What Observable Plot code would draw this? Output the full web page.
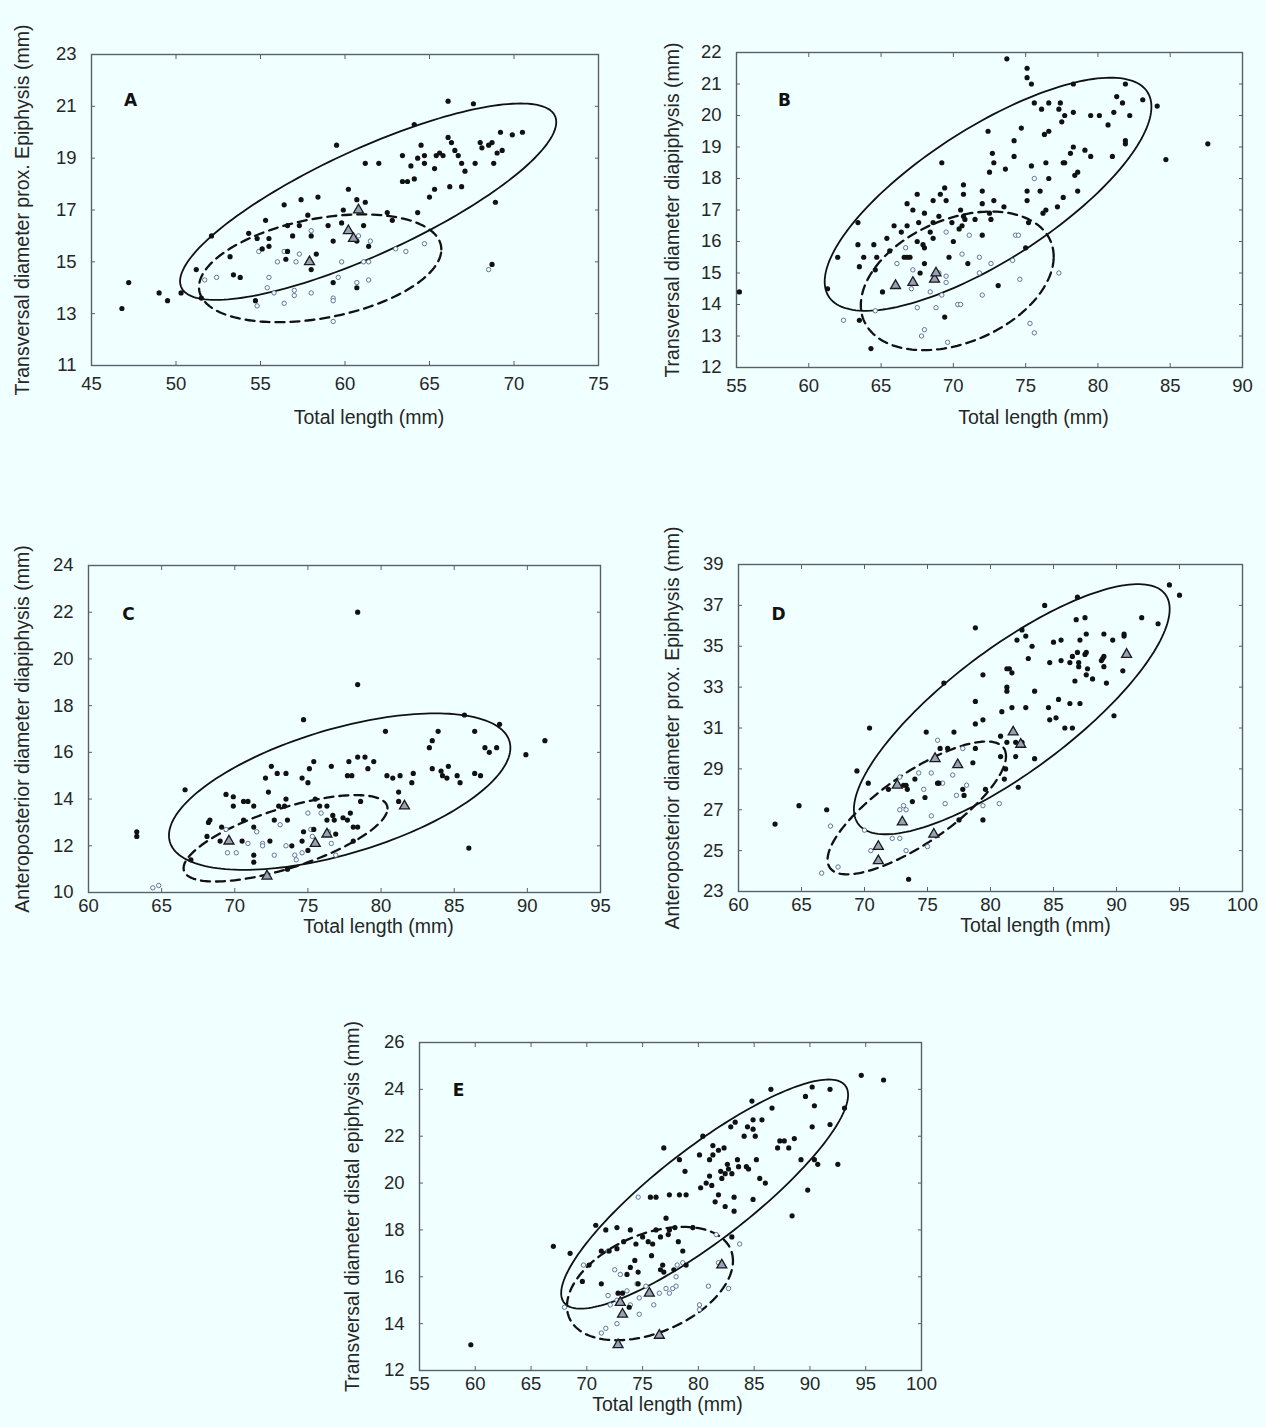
<!DOCTYPE html>
<html>
<head>
<meta charset="utf-8">
<script src="https://cdn.jsdelivr.net/npm/d3@7"></script>
<script src="https://cdn.jsdelivr.net/npm/@observablehq/plot@0.6"></script>
<style>
  html, body { margin: 0; padding: 0; background: #f0ffff; }
  #chart { position: relative; width: 1266px; height: 1427px; background: #f0ffff; }
  #chart svg { position: absolute; left: 0; top: 0; }
</style>
</head>
<body>
<div id="chart"></div>
<script>
// ---------- Panel A ----------
const aXTicks = [45, 50, 55, 60, 65, 70, 75];
const aYTicks = [11, 13, 15, 17, 19, 21, 23];
const aFilled = [[46.8,13.2],[47.2,14.2],[49.0,13.8],[49.5,13.5],[50.3,13.8],[51.2,14.7],[51.5,13.6],[52.1,16.0],[53.2,15.2],[53.4,14.5],[53.8,14.4],[54.3,16.1],[54.7,13.5],[54.8,15.9],[55.1,15.5],[55.3,16.6],[55.5,15.9],[55.5,15.6],[56.4,17.2],[56.6,16.4],[56.6,15.4],[56.5,15.1],[56.9,16.0],[57.3,16.4],[57.4,17.4],[57.8,16.8],[58.0,16.0],[58.0,14.7],[58.3,15.3],[58.4,17.5],[59.0,16.4],[59.3,15.8],[59.5,19.5],[59.3,14.2],[59.8,16.5],[59.9,17.0],[60.2,17.8],[60.7,17.4],[60.7,15.8],[60.7,14.0],[61.1,16.4],[61.2,17.3],[61.2,18.8],[61.4,15.6],[62.0,18.8],[62.5,16.9],[62.8,16.6],[63.4,19.1],[63.4,18.1],[63.7,18.1],[63.9,18.7],[64.1,18.2],[64.1,20.3],[64.3,19.0],[64.3,16.9],[64.5,19.5],[64.7,18.8],[64.7,19.1],[65.0,17.5],[65.3,17.8],[65.3,18.6],[65.4,19.1],[65.6,19.2],[65.8,19.1],[66.1,21.2],[66.1,19.8],[66.3,19.6],[66.2,17.9],[66.5,19.3],[66.7,19.1],[66.9,18.8],[67.1,18.5],[66.9,17.9],[67.6,21.1],[67.7,18.8],[68.0,19.6],[68.1,19.4],[68.5,19.5],[68.7,19.6],[68.8,18.8],[69.0,19.2],[69.3,19.3],[69.2,20.0],[69.9,19.9],[70.5,20.0],[68.9,17.3],[68.7,14.9]];
const aOpen = [[51.7,14.3],[52.4,14.4],[54.9,15.4],[56.0,15.0],[56.4,15.4],[57.1,15.0],[57.3,15.3],[58.0,16.2],[55.5,14.4],[55.4,14.0],[55.8,13.8],[54.8,13.3],[56.4,13.4],[57.0,13.9],[57.0,13.7],[58.0,13.8],[59.6,14.4],[59.3,13.6],[59.3,13.5],[59.3,12.7],[59.8,15.0],[60.7,14.2],[60.8,16.0],[61.1,15.0],[61.4,15.0],[61.4,14.3],[61.5,15.8],[63.0,15.5],[63.6,15.4],[64.7,15.7],[68.5,14.7]];
const aTri = [[60.8,17.0],[60.2,16.2],[60.5,15.9],[57.9,15.0]];
// ellipse: [centre x, centre y, half-width, half-height, cos(phase)]
const aSolid = [61.37, 17.32, 11.13, 3.79, 0.81];
const aDashed = [58.53, 14.75, 7.17, 2.08, 0.35];

// ---------- Panel B ----------
const bXTicks = [55, 60, 65, 70, 75, 80, 85, 90];
const bYTicks = [12, 13, 14, 15, 16, 17, 18, 19, 20, 21, 22];
const bFilled = [[55.2,14.4],[61.3,14.5],[62.0,15.5],[63.4,16.6],[63.4,15.9],[63.5,15.2],[63.5,13.5],[63.8,15.5],[64.3,12.6],[64.5,15.9],[64.7,15.5],[64.6,15.1],[65.1,14.4],[65.4,16.1],[65.6,15.7],[65.9,16.5],[66.4,16.3],[66.8,17.2],[66.8,16.5],[66.6,15.5],[66.8,15.5],[67.0,15.5],[67.2,17.0],[67.5,17.5],[67.5,16.0],[67.7,15.0],[67.9,15.9],[68.0,15.3],[68.0,15.8],[67.6,16.6],[68.4,16.3],[68.6,16.1],[68.6,17.3],[68.6,16.6],[68.0,16.9],[69.0,16.8],[69.1,17.5],[69.4,17.7],[69.5,17.3],[69.2,18.5],[69.7,15.5],[69.4,13.6],[69.9,16.6],[70.0,16.0],[70.4,16.4],[70.5,17.0],[70.6,16.5],[70.7,17.8],[70.7,16.8],[70.8,16.7],[71.0,15.3],[70.7,17.5],[71.5,16.7],[72.0,17.6],[72.0,17.2],[72.0,16.2],[72.4,19.5],[72.5,16.9],[72.6,16.7],[72.5,18.2],[72.7,18.8],[72.8,18.5],[72.8,17.3],[73.1,14.6],[73.5,17.1],[73.6,18.3],[73.7,21.8],[74.2,19.2],[74.2,18.7],[74.7,19.6],[75.1,21.5],[75.1,21.2],[75.4,21.0],[75.1,17.6],[75.1,17.3],[75.2,16.6],[75.0,15.8],[75.4,18.4],[75.6,20.4],[76.0,17.6],[76.1,20.2],[76.2,16.9],[76.3,19.4],[76.6,19.5],[76.4,18.5],[76.6,18.0],[76.6,20.4],[76.4,17.0],[77.2,17.1],[77.3,20.2],[77.4,20.4],[77.5,19.8],[77.7,20.0],[77.6,17.4],[77.6,18.5],[77.7,18.5],[78.1,18.8],[78.3,19.0],[78.3,20.1],[78.3,21.0],[78.4,18.1],[78.6,18.2],[78.6,17.6],[79.1,18.9],[79.5,20.0],[79.5,18.7],[80.1,20.0],[80.7,19.7],[81.0,18.7],[81.1,20.1],[81.3,20.6],[81.7,20.4],[81.9,21.0],[82.2,20.0],[81.9,19.2],[81.9,19.1],[83.1,20.5],[84.1,20.3],[84.7,18.6],[87.6,19.1]];
const bOpen = [[62.4,13.5],[64.6,13.8],[66.1,15.3],[67.1,14.5],[67.2,15.1],[67.5,13.9],[67.8,13.0],[68.0,13.2],[68.4,14.4],[68.8,13.9],[69.0,15.0],[69.2,14.3],[69.5,14.9],[69.5,14.7],[69.6,12.8],[69.5,16.3],[70.3,14.0],[70.5,14.0],[70.6,15.6],[71.1,16.2],[71.8,15.5],[71.8,15.0],[72.0,14.3],[72.6,15.3],[74.1,15.4],[74.3,16.2],[74.5,16.2],[74.6,14.8],[75.3,13.4],[75.6,13.1],[75.6,18.0],[77.3,15.0],[66.7,15.8]];
const bTri = [[66.0,14.6],[67.2,14.7],[68.7,14.8],[68.8,15.0]];
const bSolid = [72.4, 17.5, 11.3, 3.7, 0.75];
const bDashed = [70.27, 14.75, 6.67, 2.2, 0.35];

// ---------- Panel C ----------
const cXTicks = [60, 65, 70, 75, 80, 85, 90, 95];
const cYTicks = [10, 12, 14, 16, 18, 20, 22, 24];
const cFilled = [[63.3,12.6],[63.3,12.4],[66.6,14.4],[67.0,11.4],[68.1,12.4],[68.2,13.0],[68.3,13.1],[69.0,12.2],[69.1,12.8],[69.4,14.2],[69.9,14.1],[69.9,13.7],[70.5,12.2],[70.6,13.1],[70.6,13.9],[70.9,13.9],[71.3,13.7],[71.3,12.8],[71.3,11.6],[71.3,11.3],[72.1,14.9],[72.3,14.3],[72.4,12.2],[72.5,15.4],[72.7,13.1],[72.9,15.1],[73.0,13.7],[73.4,13.7],[73.5,15.1],[73.5,14.0],[73.6,13.1],[73.6,11.0],[73.9,12.0],[74.6,12.2],[74.6,14.9],[74.7,17.4],[74.7,12.6],[75.0,11.8],[75.0,14.7],[75.1,15.3],[75.4,15.6],[75.4,12.7],[75.5,14.0],[75.8,13.7],[76.3,13.7],[76.3,13.1],[76.7,13.3],[76.8,13.1],[76.6,15.4],[76.9,12.5],[77.4,13.2],[77.7,15.0],[77.7,13.1],[77.8,15.6],[77.9,13.4],[78.0,15.0],[78.1,12.8],[78.1,12.2],[78.4,22.0],[78.4,18.9],[78.4,15.8],[78.4,12.8],[78.6,13.9],[78.9,15.8],[79.1,15.3],[79.5,15.6],[80.3,16.9],[80.4,15.0],[80.8,14.9],[81.2,14.3],[81.2,13.9],[81.3,15.0],[82.1,14.7],[82.2,15.1],[83.3,16.2],[83.5,16.5],[83.5,15.3],[83.9,16.9],[84.1,15.2],[84.2,15.0],[84.5,14.9],[84.6,15.4],[85.2,15.0],[85.4,14.7],[85.7,17.6],[86.0,11.9],[86.4,16.9],[86.4,15.1],[86.8,15.0],[87.1,16.2],[87.4,16.0],[87.9,16.2],[88.1,17.2],[89.9,15.9],[91.2,16.5]];
const cOpen = [[64.4,10.2],[64.8,10.3],[69.4,12.7],[69.5,11.7],[70.1,11.7],[70.9,12.1],[71.5,12.6],[71.9,12.1],[71.9,12.0],[72.7,11.6],[73.1,12.9],[73.5,12.0],[74.1,11.6],[74.2,11.4],[74.6,11.7],[75.0,13.4],[75.2,12.7],[75.3,12.4],[75.9,13.4],[76.4,12.6],[76.6,12.1],[76.9,11.6]];
const cTri = [[69.6,12.2],[72.2,10.7],[75.5,12.1],[76.3,12.5],[81.6,13.7]];
const cSolid = [77.17, 14.32, 11.67, 3.35, 0.56];
const cDashed = [73.47, 12.32, 6.97, 1.85, 0.69];

// ---------- Panel D ----------
const dXTicks = [60, 65, 70, 75, 80, 85, 90, 95, 100];
const dYTicks = [23, 25, 27, 29, 31, 33, 35, 37, 39];
const dFilled = [[62.9,26.3],[64.8,27.2],[67.0,27.0],[69.4,28.9],[70.3,28.3],[70.4,31.0],[71.9,28.0],[73.1,28.2],[73.3,28.2],[73.4,28.0],[73.5,23.6],[73.8,27.4],[74.0,28.5],[74.8,27.6],[74.9,30.8],[75.8,28.3],[75.9,28.3],[76.0,30.0],[76.3,33.2],[76.6,30.0],[77.1,30.8],[77.5,26.5],[77.8,28.0],[77.9,27.7],[78.6,29.3],[78.8,30.0],[78.8,31.2],[78.8,32.3],[78.8,35.9],[79.4,31.4],[79.4,33.6],[79.4,26.5],[79.6,28.0],[80.8,30.6],[80.8,29.6],[80.9,31.8],[81.1,28.5],[81.2,29.0],[81.3,30.3],[81.3,33.0],[81.3,33.9],[81.5,33.9],[81.7,33.7],[81.3,32.8],[81.7,32.0],[82.0,30.3],[82.0,29.6],[82.1,35.3],[82.2,28.1],[82.5,35.8],[82.5,30.3],[82.8,32.0],[82.8,35.5],[83.0,34.4],[83.3,35.0],[83.5,32.8],[83.5,29.5],[84.3,37.0],[84.6,32.0],[84.7,31.4],[84.7,34.2],[85.0,35.2],[85.2,31.5],[85.4,32.4],[85.6,34.3],[85.6,35.3],[85.9,31.0],[86.3,32.2],[86.3,34.2],[86.5,34.5],[86.5,31.0],[86.7,33.3],[86.8,36.3],[86.9,37.4],[86.9,34.7],[87.0,34.2],[87.0,34.0],[87.1,35.3],[87.1,32.2],[87.5,34.6],[87.5,36.4],[87.6,35.6],[87.6,33.6],[87.7,33.9],[87.6,34.7],[88.1,33.4],[88.8,34.3],[88.9,34.4],[89.0,34.5],[89.0,35.6],[89.0,34.0],[89.2,33.2],[89.7,35.3],[89.8,31.6],[90.5,33.8],[90.6,35.6],[90.6,35.5],[92.0,36.4],[93.3,36.1],[94.2,38.0],[95.0,37.5]];
const dOpen = [[66.6,23.9],[67.3,26.2],[67.9,24.2],[70.0,26.0],[70.5,25.0],[72.2,25.6],[72.8,25.6],[72.8,28.6],[72.8,27.0],[73.1,27.2],[73.3,27.0],[73.3,25.0],[74.3,28.8],[74.7,28.0],[75.0,25.2],[75.3,28.8],[75.3,26.7],[75.8,30.4],[76.2,28.3],[76.4,27.3],[77.0,28.7],[77.3,27.7],[77.8,30.0],[78.1,28.2],[79.4,27.2],[80.7,27.3]];
const dTri = [[71.1,25.2],[71.1,24.5],[72.6,28.2],[73.0,26.4],[75.5,25.8],[75.6,29.5],[77.4,29.2],[81.8,30.8],[82.4,30.2],[90.8,34.6]];
const dSolid = [81.69, 31.92, 12.53, 6.12, 0.8];
const dDashed = [74.15, 27.09, 7.08, 3.25, 0.78];

// ---------- Panel E ----------
const eXTicks = [55, 60, 65, 70, 75, 80, 85, 90, 95, 100];
const eYTicks = [12, 14, 16, 18, 20, 22, 24, 26];
const eFilled = [[59.6,13.1],[67.0,17.3],[68.5,17.0],[69.6,15.8],[70.2,16.5],[70.8,18.2],[71.3,17.1],[71.3,15.7],[71.7,18.0],[72.0,17.1],[72.7,18.1],[72.7,17.2],[72.8,15.3],[73.2,15.3],[73.3,17.5],[73.6,16.1],[73.8,14.7],[73.9,18.0],[73.9,16.4],[74.3,16.7],[74.4,17.4],[74.6,16.2],[74.6,15.7],[75.0,17.7],[75.5,17.5],[75.7,19.4],[76.2,19.4],[75.8,16.9],[75.9,17.4],[76.2,18.0],[76.6,17.7],[76.6,16.3],[76.8,16.5],[76.9,16.2],[76.9,21.5],[77.1,18.5],[77.3,17.8],[77.4,19.5],[77.4,18.0],[77.8,16.3],[77.9,18.1],[78.2,17.5],[78.3,21.0],[78.3,19.5],[78.6,17.1],[78.8,20.5],[78.9,19.5],[78.9,16.5],[79.5,18.1],[80.1,21.2],[80.2,19.8],[80.4,22.0],[80.7,20.0],[81.0,21.0],[81.0,20.3],[81.2,19.9],[81.3,21.6],[81.3,21.2],[81.5,19.2],[81.8,21.4],[81.8,19.5],[82.0,20.5],[82.1,20.2],[82.3,21.5],[82.4,19.0],[82.4,20.4],[82.6,20.8],[82.7,20.6],[82.9,22.4],[83.0,20.4],[83.2,19.4],[83.2,18.8],[83.3,22.6],[83.5,21.0],[83.6,20.7],[84.1,22.0],[84.4,22.4],[84.3,20.7],[84.5,20.6],[84.8,23.5],[84.9,22.7],[84.9,22.3],[85.1,22.0],[84.9,19.3],[85.2,21.0],[85.5,20.2],[85.7,22.7],[86.0,20.0],[86.5,24.0],[86.6,23.2],[87.1,21.5],[87.3,21.8],[87.7,21.8],[88.1,21.5],[88.4,18.6],[88.6,21.9],[89.2,21.0],[89.6,23.7],[89.8,19.7],[90.2,24.1],[90.2,22.4],[90.4,21.0],[90.4,23.3],[90.7,20.8],[91.8,24.0],[91.8,22.5],[92.5,20.8],[93.1,23.2],[94.6,24.6],[96.6,24.4],[83.0,17.7]];
const eOpen = [[68.0,14.7],[69.7,16.5],[71.3,13.6],[71.7,13.8],[71.9,17.1],[71.9,15.2],[72.1,14.8],[72.5,16.3],[72.7,14.0],[72.7,15.0],[73.0,16.1],[73.6,15.4],[73.9,14.8],[74.5,15.7],[74.6,19.4],[74.7,14.4],[74.7,15.1],[75.3,15.6],[76.0,14.8],[76.5,15.3],[77.1,15.5],[77.4,15.3],[77.7,15.5],[78.0,15.6],[78.0,16.0],[78.1,16.5],[78.6,16.6],[79.5,18.1],[80.1,14.8],[80.1,14.6],[80.9,15.6],[81.6,17.8],[81.8,16.6],[82.7,15.5],[83.7,17.4]];
const eTri = [[72.8,13.1],[73.0,14.9],[73.2,14.4],[75.6,15.3],[76.5,13.5],[82.1,16.5]];
const eSolid = [80.56, 19.53, 12.86, 4.89, 0.865];
const eDashed = [75.66, 15.71, 7.44, 2.42, 0.4];

// ---------- titles ----------
const xTitle = "Total length (mm)";
const yTitles = [
  "Transversal diameter prox. Epiphysis (mm)",
  "Transversal diameter diapiphysis (mm)",
  "Anteroposterior diameter diapiphysis (mm)",
  "Anteroposterior diameter prox. Epiphysis (mm)",
  "Transversal diameter distal epiphysis (mm)"
];
const letters = ["A", "B", "C", "D", "E"];

// ---------- layout (frame pixel boxes: left, right, top, bottom) ----------
const W = 1266, H = 1427;
const layout = [
  {frame: [91, 598, 54, 365],    letter: [39, 39], xt: [24, 58], yt: -69, tp: 11},
  {frame: [736, 1242, 52, 367],  letter: [48, 41], xt: [44, 56], yt: -64, tp: 11},
  {frame: [88, 600, 565, 892],   letter: [40, 42], xt: [34, 40], yt: -66, tp: 6},
  {frame: [738, 1242, 564, 891], letter: [40, 43], xt: [45, 40], yt: -66, tp: 6},
  {frame: [419, 921, 1042, 1370], letter: [39, 41], xt: [-3, 40], yt: -67, tp: 6}
];
const series = [
  [aXTicks, aYTicks, aFilled, aOpen, aTri, aSolid, aDashed],
  [bXTicks, bYTicks, bFilled, bOpen, bTri, bSolid, bDashed],
  [cXTicks, cYTicks, cFilled, cOpen, cTri, cSolid, cDashed],
  [dXTicks, dYTicks, dFilled, dOpen, dTri, dSolid, dDashed],
  [eXTicks, eYTicks, eFilled, eOpen, eTri, eSolid, eDashed]
];

function ellipse([cx, cy, rx, ry, c]) {
  const phi = Math.acos(c);
  return d3.range(0, 360, 2).map(deg => {
    const t = deg * Math.PI / 180;
    return {x: cx + rx * Math.cos(t), y: cy + ry * Math.cos(t - phi)};
  });
}

const frameColor = "#5a5f6c";
const textColor = "#262626";
const font = "'Liberation Sans', Arial, Helvetica, sans-serif";
const chart = document.getElementById("chart");

series.forEach(([xt, yt, filled, open, tri, solid, dashed], i) => {
  const L = layout[i];
  const [l, r, t, b] = L.frame;
  const svg = Plot.plot({
    width: W, height: H,
    marginLeft: l, marginRight: W - r, marginTop: t, marginBottom: H - b,
    style: {background: "transparent", fontFamily: font, overflow: "visible"},
    x: {domain: [xt[0], xt[xt.length - 1]]},
    y: {domain: [yt[0], yt[yt.length - 1]]},
    marks: [
      Plot.frame({stroke: frameColor, strokeWidth: 1.4}),
      Plot.axisX(xt, {anchor: "bottom", tickSize: -4, fill: "none", stroke: frameColor, label: null}),
      Plot.axisX(xt, {anchor: "top", tickSize: -4, fill: "none", stroke: frameColor, label: null}),
      Plot.axisY(yt, {anchor: "left", tickSize: -4, fill: "none", stroke: frameColor, label: null}),
      Plot.axisY(yt, {anchor: "right", tickSize: -4, fill: "none", stroke: frameColor, label: null}),
      Plot.axisX(xt, {anchor: "bottom", tickSize: 0, tickPadding: L.tp, fontSize: 18.5, fill: textColor, label: null}),
      Plot.axisY(yt, {anchor: "left", tickSize: 0, tickPadding: 15, fontSize: 18.5, fill: textColor, label: null}),
      Plot.line(ellipse(solid), {x: "x", y: "y", curve: "linear-closed", stroke: "#111", strokeWidth: 1.8}),
      Plot.line(ellipse(dashed), {x: "x", y: "y", curve: "linear-closed", stroke: "#111", strokeWidth: 2.3, strokeDasharray: "9,6"}),
      Plot.dot(open, {x: d => d[0], y: d => d[1], r: 2.2, stroke: "#5a6690", strokeWidth: 0.9, fill: "#f0ffff"}),
      Plot.dot(filled, {x: d => d[0], y: d => d[1], r: 2.6, fill: "#111", stroke: "none"}),
      Plot.dot(tri, {x: d => d[0], y: d => d[1], symbol: "triangle", r: 3.7, fill: "#9aa1b6", stroke: "#1a1a1a", strokeWidth: 1.3}),
      Plot.text([letters[i]], {frameAnchor: "top-left", dx: L.letter[0], dy: L.letter[1], text: d => d, fontSize: 17, fontWeight: "bold", fontFamily: "'DejaVu Sans', sans-serif", fill: "#111", textAnchor: "middle"}),
      Plot.text([xTitle], {frameAnchor: "bottom", dx: L.xt[0], dy: L.xt[1], text: d => d, fontSize: 19.5, fill: textColor, textAnchor: "middle"}),
      Plot.text([yTitles[i]], {frameAnchor: "left", dx: L.yt, rotate: -90, text: d => d, fontSize: 19.5, fill: textColor, textAnchor: "middle"})
    ]
  });
  chart.appendChild(svg);
});
</script>
</body>
</html>
